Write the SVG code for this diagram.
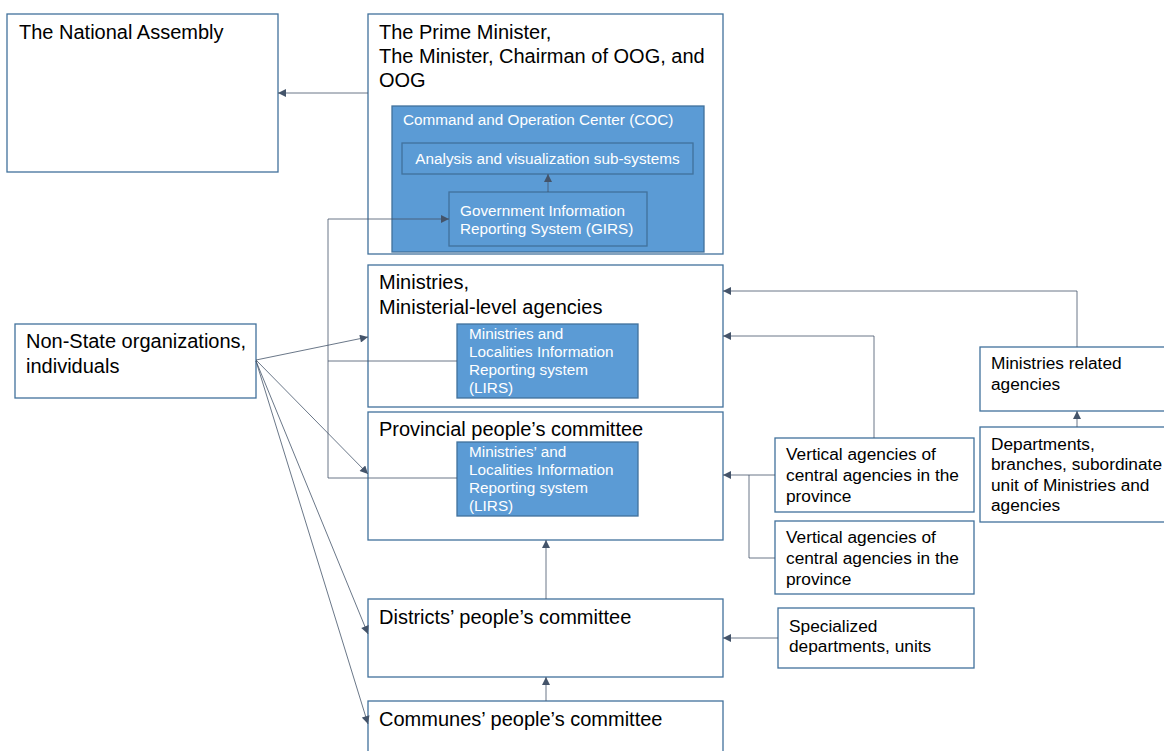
<svg xmlns="http://www.w3.org/2000/svg" width="1164" height="751" viewBox="0 0 1164 751">
  <defs>
    <marker id="arrow" viewBox="0 0 10 10" refX="10" refY="5" markerWidth="9" markerHeight="8" markerUnits="userSpaceOnUse" orient="auto">
      <path d="M0,0 L10,5 L0,10 Z" fill="#44546A"/>
    </marker>
    <style>
      .box { fill: #ffffff; stroke: #41719C; stroke-width: 1.3; }
      .sys { fill: #5B9BD5; stroke: #41719C; stroke-width: 1.3; }
      .lbl { font-family: "Liberation Sans", Arial, sans-serif; font-size: 20px; fill: #000000; }
      .sm { font-family: "Liberation Sans", Arial, sans-serif; font-size: 17.3px; fill: #000000; }
      .wt { font-family: "Liberation Sans", Arial, sans-serif; font-size: 15.3px; fill: #ffffff; }
      .conn { fill: none; stroke: #44546A; stroke-width: 0.8; }
      .conn-a { fill: none; stroke: #44546A; stroke-width: 0.8; marker-end: url(#arrow); }
    </style>
  </defs>
  <rect width="1164" height="751" fill="#ffffff"/>

  <!-- Left column -->
  <g id="national-assembly">
    <rect class="box" x="7" y="14" width="271" height="158"/>
    <text class="lbl" x="19" y="39">The National Assembly</text>
  </g>

  <g id="non-state">
    <rect class="box" x="15" y="324" width="241" height="74"/>
    <text class="lbl" x="26" y="348">Non-State organizations,</text>
    <text class="lbl" x="26" y="373">individuals</text>
  </g>

  <!-- Central column -->
  <g id="prime-minister">
    <rect class="box" x="368" y="14" width="355" height="240"/>
    <text class="lbl" x="379" y="39">The Prime Minister,</text>
    <text class="lbl" x="379" y="63">The Minister, Chairman of OOG, and</text>
    <text class="lbl" x="379" y="87">OOG</text>
  </g>

  <g id="coc">
    <rect class="sys" x="392" y="106" width="312" height="146"/>
    <text class="wt" x="403" y="125">Command and Operation Center (COC)</text>
  </g>

  <g id="analysis">
    <rect class="sys" x="402" y="143" width="291" height="31"/>
    <text class="wt" x="547.5" y="164" text-anchor="middle">Analysis and visualization sub-systems</text>
  </g>

  <g id="girs">
    <rect class="sys" x="449" y="192" width="198" height="54"/>
    <text class="wt" x="460" y="216">Government Information</text>
    <text class="wt" x="460" y="234">Reporting System (GIRS)</text>
  </g>

  <g id="ministries">
    <rect class="box" x="368" y="265" width="355" height="142"/>
    <text class="lbl" x="379" y="289">Ministries,</text>
    <text class="lbl" x="379" y="314">Ministerial-level agencies</text>
  </g>

  <g id="lirs-ministries">
    <rect class="sys" x="457" y="324" width="181" height="74"/>
    <text class="wt" x="469" y="339">Ministries and</text>
    <text class="wt" x="469" y="357">Localities Information</text>
    <text class="wt" x="469" y="375">Reporting system</text>
    <text class="wt" x="469" y="393">(LIRS)</text>
  </g>

  <g id="provincial">
    <rect class="box" x="368" y="412" width="355" height="128"/>
    <text class="lbl" x="379" y="436">Provincial people’s committee</text>
  </g>

  <g id="lirs-provincial">
    <rect class="sys" x="457" y="442" width="181" height="74"/>
    <text class="wt" x="469" y="457">Ministries’ and</text>
    <text class="wt" x="469" y="475">Localities Information</text>
    <text class="wt" x="469" y="493">Reporting system</text>
    <text class="wt" x="469" y="511">(LIRS)</text>
  </g>

  <g id="districts">
    <rect class="box" x="368" y="599" width="355" height="78"/>
    <text class="lbl" x="379" y="624">Districts’ people’s committee</text>
  </g>

  <g id="communes">
    <rect class="box" x="368" y="701" width="355" height="70"/>
    <text class="lbl" x="379" y="726">Communes’ people’s committee</text>
  </g>

  <!-- Right column -->
  <g id="vertical-agencies-1">
    <rect class="box" x="775" y="438" width="199" height="74"/>
    <text class="sm" x="786" y="460">Vertical agencies of</text>
    <text class="sm" x="786" y="481">central agencies in the</text>
    <text class="sm" x="786" y="502">province</text>
  </g>

  <g id="vertical-agencies-2">
    <rect class="box" x="775" y="521" width="199" height="73"/>
    <text class="sm" x="786" y="543">Vertical agencies of</text>
    <text class="sm" x="786" y="564">central agencies in the</text>
    <text class="sm" x="786" y="585">province</text>
  </g>

  <g id="specialized">
    <rect class="box" x="778" y="608" width="196" height="60"/>
    <text class="sm" x="789" y="632">Specialized</text>
    <text class="sm" x="789" y="652">departments, units</text>
  </g>

  <g id="related-agencies">
    <rect class="box" x="980" y="347" width="200" height="64"/>
    <text class="sm" x="991" y="369">Ministries related</text>
    <text class="sm" x="991" y="390">agencies</text>
  </g>

  <g id="departments">
    <rect class="box" x="980" y="427" width="200" height="95"/>
    <text class="sm" x="991" y="450">Departments,</text>
    <text class="sm" x="991" y="470">branches, subordinate</text>
    <text class="sm" x="991" y="491">unit of Ministries and</text>
    <text class="sm" x="991" y="511">agencies</text>
  </g>

  <!-- Connectors -->
  <g id="connectors">
    <!-- reporting up to the National Assembly -->
    <path class="conn-a" d="M368,93 H278"/>
    <!-- inside the COC -->
    <path class="conn-a" d="M548,192 V174"/>
    <!-- LIRS feeds into GIRS -->
    <path class="conn" d="M457,361 H328"/>
    <path class="conn" d="M457,478 H328"/>
    <path class="conn-a" d="M328,478 V219 H449"/>
    <!-- non-State organizations, individuals -->
    <path class="conn-a" d="M256,360 L368,337"/>
    <path class="conn-a" d="M256,360 L368,474"/>
    <path class="conn-a" d="M256,361 L368,634"/>
    <path class="conn-a" d="M256,361 L368,724"/>
    <!-- local hierarchy -->
    <path class="conn-a" d="M546,599 V540"/>
    <path class="conn-a" d="M546,701 V677"/>
    <path class="conn-a" d="M778,638 H723"/>
    <!-- vertical agencies -->
    <path class="conn-a" d="M874,438 V336 H723"/>
    <path class="conn-a" d="M775,475 H723"/>
    <path class="conn" d="M775,558 H749 V475"/>
    <!-- ministries related agencies -->
    <path class="conn-a" d="M1077,347 V291 H723"/>
    <path class="conn-a" d="M1077,427 V411"/>
  </g>
</svg>
